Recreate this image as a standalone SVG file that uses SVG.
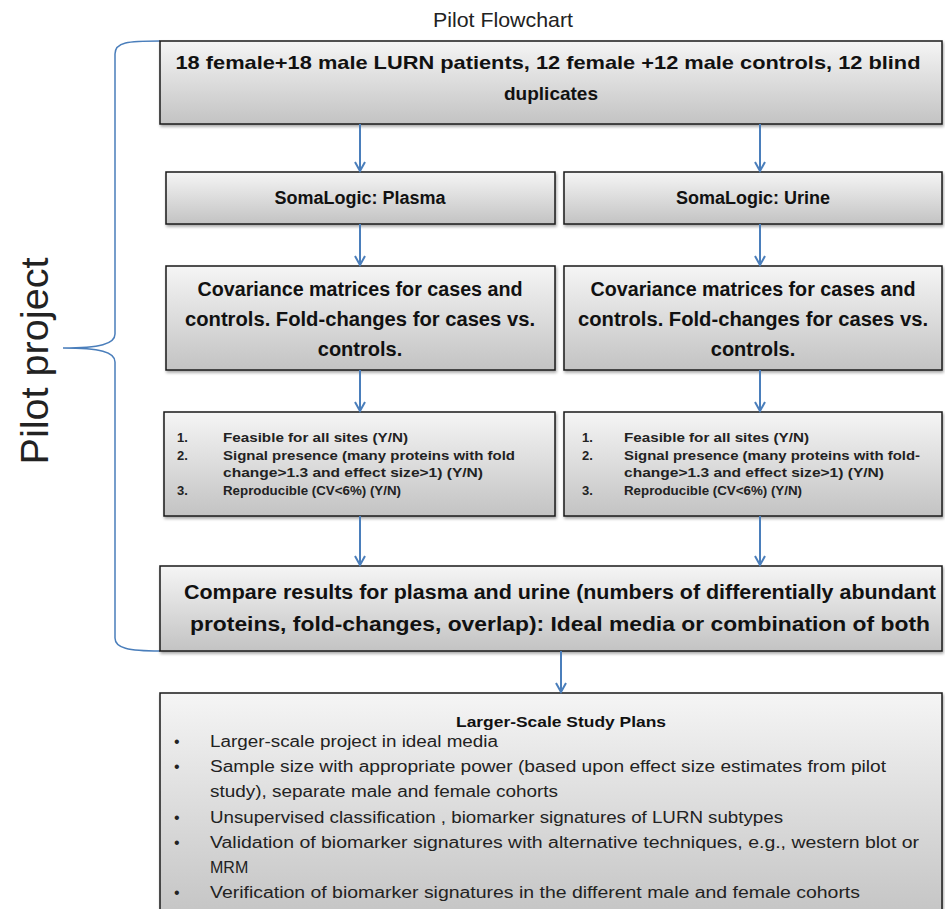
<svg xmlns="http://www.w3.org/2000/svg" width="945" height="909" viewBox="0 0 945 909">
<defs>
<linearGradient id="g" x1="0" y1="0" x2="0" y2="1">
<stop offset="0" stop-color="#f5f5f5"/>
<stop offset="1" stop-color="#c3c3c3"/>
</linearGradient>
<filter id="sh" x="-5%" y="-5%" width="110%" height="120%">
<feDropShadow dx="1" dy="2" stdDeviation="1.5" flood-color="#000" flood-opacity="0.35"/>
</filter>
<marker id="ah" markerWidth="12" markerHeight="12" refX="10" refY="6" orient="auto" markerUnits="userSpaceOnUse">
<path d="M1,1 L10,6 L1,11" fill="none" stroke="#4a7ebb" stroke-width="2"/>
</marker>
<style>
.box{fill:url(#g);stroke:#1a1a1a;stroke-width:1.5;filter:url(#sh)}
.b{font-family:"Liberation Sans",Arial,sans-serif;font-weight:bold;fill:#111;text-anchor:middle}
.n{font-family:"Liberation Sans",Arial,sans-serif;fill:#222}
.s{font-family:"Liberation Sans",Arial,sans-serif;font-weight:bold;fill:#222;font-size:13px}
.c{stroke:#4a7ebb;stroke-width:2;fill:none;marker-end:url(#ah)}
</style>
</defs>
<rect width="945" height="909" fill="#fff"/>
<text x="503" y="27" class="n" font-size="21" text-anchor="middle" textLength="140" lengthAdjust="spacingAndGlyphs">Pilot Flowchart</text>
<text class="n" font-size="38" text-anchor="middle" transform="translate(48,361) rotate(-90)" textLength="207" lengthAdjust="spacingAndGlyphs">Pilot project</text>
<path d="M160,41 C128,41 115,42 115,54 L115,334 C115,344 100,348 63,348 C100,348 115,352 115,362 L115,638 C115,648 128,651 160,651" fill="none" stroke="#4a7ebb" stroke-width="1.5"/>
<g id="n1"><rect class="box" x="160" y="41" width="782" height="83"/>
<text class="b" x="548" y="69" font-size="19" textLength="745" lengthAdjust="spacingAndGlyphs">18 female+18 male LURN patients, 12 female +12 male controls, 12 blind</text>
<text class="b" x="551" y="100" font-size="19">duplicates</text></g>
<g id="n2"><rect class="box" x="166" y="172" width="389" height="52"/>
<text class="b" x="360" y="204" font-size="18">SomaLogic: Plasma</text></g>
<g id="n3"><rect class="box" x="564" y="172" width="378" height="52"/>
<text class="b" x="753" y="204" font-size="18">SomaLogic: Urine</text></g>
<g id="n4"><rect class="box" x="166" y="266" width="389" height="104"/>
<text class="b" x="360" y="296" font-size="20" textLength="325" lengthAdjust="spacingAndGlyphs">Covariance matrices for cases and</text>
<text class="b" x="360" y="326" font-size="20" textLength="350" lengthAdjust="spacingAndGlyphs">controls. Fold-changes for cases vs.</text>
<text class="b" x="360" y="356" font-size="20">controls.</text></g>
<g id="n5"><rect class="box" x="564" y="266" width="378" height="104"/>
<text class="b" x="753" y="296" font-size="20" textLength="325" lengthAdjust="spacingAndGlyphs">Covariance matrices for cases and</text>
<text class="b" x="753" y="326" font-size="20" textLength="350" lengthAdjust="spacingAndGlyphs">controls. Fold-changes for cases vs.</text>
<text class="b" x="753" y="356" font-size="20">controls.</text></g>
<g id="n6"><rect class="box" x="164" y="412" width="391" height="104"/>
<text class="s" x="177" y="442">1.</text><text class="s" x="223" y="442" textLength="185" lengthAdjust="spacingAndGlyphs">Feasible for all sites (Y/N)</text>
<text class="s" x="177" y="460">2.</text><text class="s" x="223" y="460" textLength="292" lengthAdjust="spacingAndGlyphs">Signal presence (many proteins with fold</text>
<text class="s" x="223" y="477" textLength="260" lengthAdjust="spacingAndGlyphs">change&gt;1.3 and effect size&gt;1) (Y/N)</text>
<text class="s" x="177" y="495">3.</text><text class="s" x="223" y="495" textLength="178" lengthAdjust="spacingAndGlyphs">Reproducible (CV&lt;6%) (Y/N)</text></g>
<g id="n7"><rect class="box" x="564" y="412" width="378" height="104"/>
<text class="s" x="582" y="442">1.</text><text class="s" x="624" y="442" textLength="185" lengthAdjust="spacingAndGlyphs">Feasible for all sites (Y/N)</text>
<text class="s" x="582" y="460">2.</text><text class="s" x="624" y="460" textLength="296" lengthAdjust="spacingAndGlyphs">Signal presence (many proteins with fold-</text>
<text class="s" x="624" y="477" textLength="260" lengthAdjust="spacingAndGlyphs">change&gt;1.3 and effect size&gt;1) (Y/N)</text>
<text class="s" x="582" y="495">3.</text><text class="s" x="624" y="495" textLength="178" lengthAdjust="spacingAndGlyphs">Reproducible (CV&lt;6%) (Y/N)</text></g>
<g id="n8"><rect class="box" x="160" y="566" width="782" height="85"/>
<text class="b" x="560" y="599" font-size="20" textLength="752" lengthAdjust="spacingAndGlyphs">Compare results for plasma and urine (numbers of differentially abundant</text>
<text class="b" x="560" y="631" font-size="20" textLength="740" lengthAdjust="spacingAndGlyphs">proteins, fold-changes, overlap): Ideal media or combination of both</text></g>
<g id="n9"><rect class="box" x="160" y="693" width="782" height="230"/>
<text class="b" x="561" y="727" font-size="15" textLength="210" lengthAdjust="spacingAndGlyphs">Larger-Scale Study Plans</text>
<g class="n" font-size="16">
<text x="174" y="747">•</text><text x="210" y="747" textLength="288" lengthAdjust="spacingAndGlyphs">Larger-scale project in ideal media</text>
<text x="174" y="772">•</text><text x="210" y="772" textLength="676" lengthAdjust="spacingAndGlyphs">Sample size with appropriate power (based upon effect size estimates from pilot</text>
<text x="210" y="797" textLength="348" lengthAdjust="spacingAndGlyphs">study), separate male and female cohorts</text>
<text x="174" y="823">•</text><text x="210" y="823" textLength="573" lengthAdjust="spacingAndGlyphs">Unsupervised classification , biomarker signatures of LURN subtypes</text>
<text x="174" y="848">•</text><text x="210" y="848" textLength="709" lengthAdjust="spacingAndGlyphs">Validation of biomarker  signatures with alternative techniques, e.g., western blot  or</text>
<text x="210" y="873">MRM</text>
<text x="174" y="898">•</text><text x="210" y="898" textLength="650" lengthAdjust="spacingAndGlyphs">Verification of biomarker  signatures in the different  male and female cohorts</text>
</g></g>
<g id="connectors">
<path class="c" d="M360,124 V171"/>
<path class="c" d="M760,124 V171"/>
<path class="c" d="M360,224 V265"/>
<path class="c" d="M760,224 V265"/>
<path class="c" d="M360,370 V411"/>
<path class="c" d="M760,370 V411"/>
<path class="c" d="M360,516 V565"/>
<path class="c" d="M760,516 V565"/>
<path class="c" d="M561,651 V692"/>
</g>
</svg>
